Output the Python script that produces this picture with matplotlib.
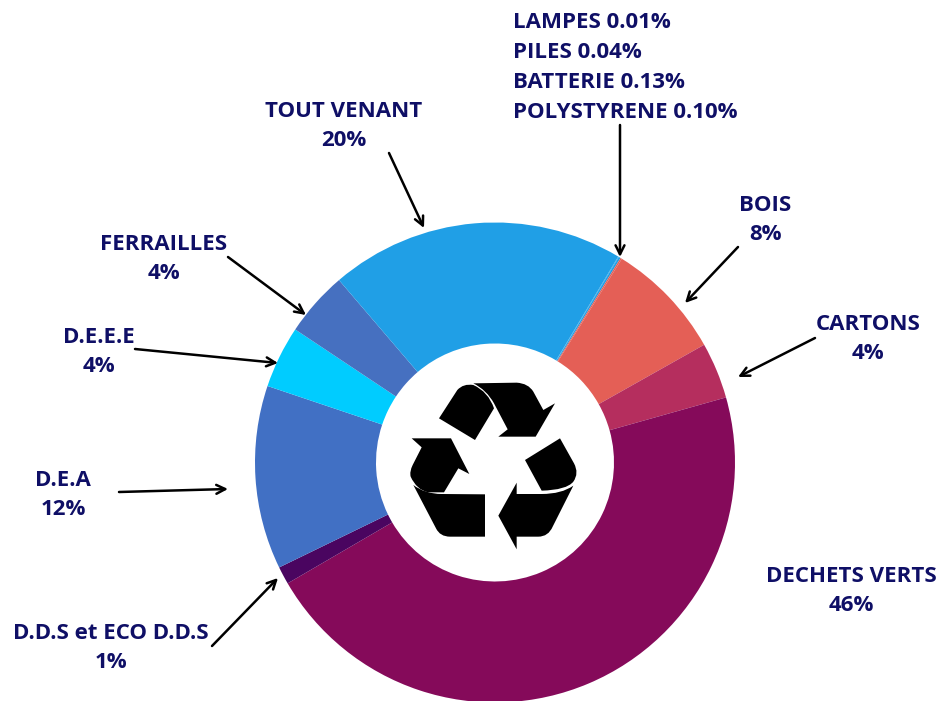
import matplotlib
matplotlib.use('Agg')
import matplotlib.pyplot as plt
from matplotlib.patches import PathPatch
from matplotlib.path import Path

plt.rcParams['font.family'] = ['Open Sans', 'DejaVu Sans']

W, H = 939, 701

###DATA###
categories = ['LAMPES', 'PILES', 'BATTERIE', 'POLYSTYRENE', 'BOIS', 'CARTONS', 'DECHETS VERTS',
              'D.D.S et ECO D.D.S', 'D.E.A', 'D.E.E.E', 'FERRAILLES', 'TOUT VENANT']
# slice sizes (labels are rounded, slices are not quite)
values = [0.01, 0.04, 0.13, 0.10, 8.0, 3.8, 46.1, 1.2, 12.4, 4.2, 4.4, 19.9]
colors = ['#209fe6', '#209fe6', '#209fe6', '#e45f56', '#e45f56', '#b52e5e', '#850a5a',
          '#4a0560', '#4170c4', '#00ccff', '#4670c0', '#209fe6']

labels = [
    ('TOUT VENANT\n20%', 344, 126),
    ('BOIS\n8%', 765, 220),
    ('CARTONS\n4%', 868, 339),
    ('FERRAILLES\n4%', 164, 259),
    ('D.E.E.E\n4%', 99, 352),
    ('D.E.A\n12%', 63, 495),
    ('D.D.S et ECO D.D.S\n1%', 111, 648),
    ('DECHETS VERTS\n46%', 851, 591),
]
small_labels = ['LAMPES 0.01%', 'PILES 0.04%', 'BATTERIE 0.13%', 'POLYSTYRENE 0.10%']

arrows = [
    (389, 153, 424, 228),
    (620, 125, 620, 257),
    (738, 247, 685, 303),
    (815, 338, 738, 377),
    (228, 257, 306, 315),
    (135, 349, 278, 363),
    (119, 492, 228, 489),
    (212, 646, 278, 578),
]

# recycling icon, traced in the 3x crop of the centre (x/3+370, y/3+340)
# a point is a straight segment, a (control, end) pair is a curve
icon = [
    [(207, 235), (262, 150), ((280, 130), (310, 135)), ((355, 155), (372, 205)), (315, 300)],
    [(310, 130), (440, 128), ((475, 130), (490, 155)), (520, 210), (555, 190), (497, 290), (385, 290),
     (413, 268), (372, 190), ((350, 150), (310, 130))],
    [(125, 295), (243, 295), (298, 402), (265, 385), (222, 457), (175, 457), ((140, 450), (122, 410)),
     ((118, 395), (128, 375)), (155, 322)],
    [(130, 435), ((165, 462), (215, 462)), (345, 463), (345, 590), (240, 590), ((210, 590), (198, 565))],
    [(570, 295), (612, 370), ((628, 400), (610, 425)), ((590, 450), (515, 452)), (465, 360)],
    [(610, 437), ((575, 462), (515, 462)), (440, 462), (440, 428), (385, 527), (440, 628), (440, 590),
     (505, 590), ((535, 590), (548, 560))],
]


def py(y):
    '''pixel row in the picture -> y of the axes'''
    return H - y


def icon_path(shape):
    '''builds a closed path out of one traced shape of the icon'''
    verts = []
    codes = []
    for i, p in enumerate(shape):
        if isinstance(p[0], tuple):
            verts += [p[0], p[1]]
            codes += [Path.CURVE3, Path.CURVE3]
        else:
            verts.append(p)
            codes.append(Path.MOVETO if i == 0 else Path.LINETO)
    verts.append(shape[0])
    codes.append(Path.CLOSEPOLY)
    return Path([(x / 3 + 370, py(y / 3 + 340)) for x, y in verts], codes)


###MAIN###
fig = plt.figure(figsize=(W / 100, H / 100), dpi=100)
ax = fig.add_axes([0, 0, 1, 1])

ax.pie(values, colors=colors, startangle=59.1, counterclock=False, center=(495, py(462.5)), radius=240,
       wedgeprops={'width': 121, 'linewidth': 0})
ax.set_xlim(0, W)
ax.set_ylim(0, H)
ax.set_aspect('equal')
ax.axis('off')

for shape in icon:
    ax.add_patch(PathPatch(icon_path(shape), facecolor='black', edgecolor='none'))

for text, x, y in labels:
    ax.text(x, py(y), text, ha='center', va='center', fontsize=16, fontweight='bold', color='#0f0f66',
            linespacing=1.5)

for i, text in enumerate(small_labels):
    ax.text(513, py(23 + i * 30), text, ha='left', va='center', fontsize=16, fontweight='bold',
            color='#0f0f66')

for x0, y0, x1, y1 in arrows:
    ax.annotate('', xy=(x1, py(y1)), xytext=(x0, py(y0)),
                arrowprops=dict(arrowstyle='->', color='black', lw=1.8, mutation_scale=16,
                                shrinkA=0, shrinkB=0))

fig.savefig('out.png', dpi=100)
